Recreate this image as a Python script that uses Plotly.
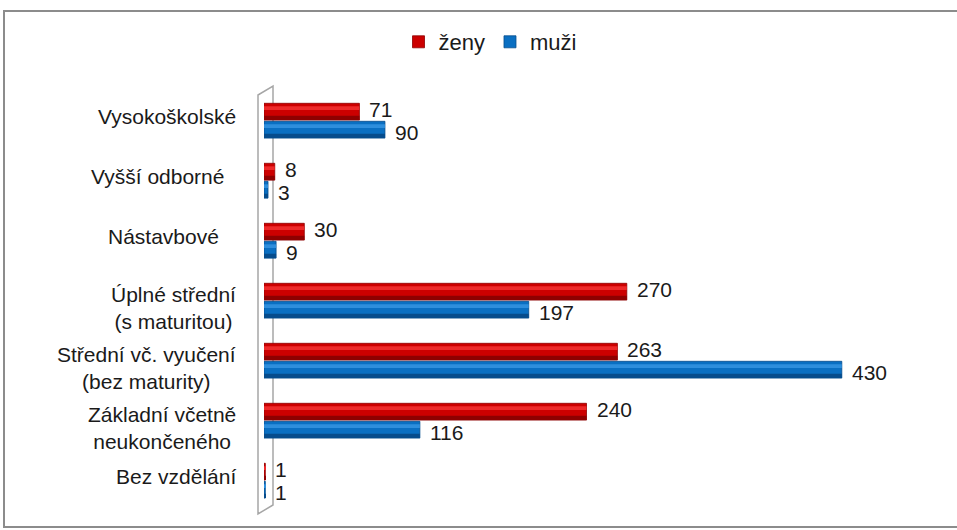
import plotly.graph_objects as go

# categories top to bottom
categories = [
    "Vysokoškolské",
    "Vyšší odborné\u00a0\u00a0",
    "Nástavbové\u00a0\u00a0\u00a0",
    "Úplné střední<br>(s maturitou)",
    "Střední vč. vyučení<br>(bez maturity)",
    "Základní včetně<br>neukončeného",
    "Bez vzdělání",
]
zeny = [71, 8, 30, 270, 263, 240, 1]
muzi = [90, 3, 9, 197, 430, 116, 1]

W, H = 957, 530
L, R, T, B = 264, 48, 91, 19
PW, PH = W - L - R, H - T - B


def px(x):
    return (x - L) / PW


def py(y):
    return (H - B - y) / PH


FONT = "Liberation Sans, Arial, sans-serif"

fig = go.Figure()
annotations = []


def cylinder(values, name, base, light, dark, offset, width, label_shift):
    # main bar
    fig.add_trace(go.Bar(
        x=values, y=categories, orientation="h", name=name,
        marker=dict(color=base, line=dict(color=dark, width=0.8)),
        offset=offset, width=width, hoverinfo="x+y",
    ))
    # highlight along the upper part
    fig.add_trace(go.Bar(
        x=values, y=categories, orientation="h", showlegend=False,
        marker=dict(color=light, line=dict(width=0)),
        offset=offset + width * 0.18, width=width * 0.22,
        hoverinfo="skip",
    ))
    # shadow along the lower part
    fig.add_trace(go.Bar(
        x=values, y=categories, orientation="h", showlegend=False,
        marker=dict(color=dark, line=dict(width=0)),
        offset=offset + width * 0.74, width=width * 0.26,
        hoverinfo="skip",
    ))
    # value labels just past the bar ends
    for v, c in zip(values, categories):
        annotations.append(dict(
            x=v, y=c, xref="x", yref="y", xanchor="left", xshift=8,
            yshift=label_shift, showarrow=False, text=str(v),
            font=dict(size=21, color="#1a1a1a", family=FONT),
        ))


cylinder(zeny, "ženy", "#CC0000", "#EE2A2A", "#8E0000", -0.295, 0.28, 12)
cylinder(muzi, "muži", "#0A6FC2", "#2E8EDC", "#064C8C", 0.005, 0.28, -11)

shapes = [
    # outer chart border
    dict(type="rect", xref="paper", yref="paper",
         x0=px(4), x1=px(962), y0=py(527), y1=py(11),
         line=dict(color="#8c8c8c", width=2), layer="below"),
    # thin 3D back wall
    dict(type="path", xref="paper", yref="paper",
         path=(f"M {px(258)} {py(95)} L {px(273)} {py(86)} L {px(273)} {py(505)} "
               f"L {px(258)} {py(514)} Z"),
         line=dict(color="#a6a6a6", width=1.5), layer="below"),
]

for c in categories:
    two_lines = "<br>" in c
    annotations.append(dict(
        x=0, xref="paper", xshift=-26, xanchor="right",
        y=c, yref="y", yshift=-7 if two_lines else 5,
        showarrow=False, align="center",
        text=c, font=dict(size=21, color="#1a1a1a", family=FONT),
    ))

fig.update_layout(
    width=W, height=H,
    margin=dict(l=L, r=R, t=T, b=B),
    paper_bgcolor="white", plot_bgcolor="rgba(0,0,0,0)",
    barmode="overlay",
    font=dict(family=FONT, color="#1a1a1a"),
    xaxis=dict(range=[0, 480], visible=False, fixedrange=True),
    yaxis=dict(range=[6.5, -0.5], showticklabels=False, showgrid=False,
               zeroline=False, showline=False, ticks="", fixedrange=True),
    legend=dict(orientation="h", xref="container", yref="container",
                x=490 / W, xanchor="center", y=1 - 42 / H,
                yanchor="middle",
                font=dict(size=22, family=FONT), itemwidth=30,
                traceorder="normal"),
    shapes=shapes,
    annotations=annotations,
    showlegend=True,
)

# drop the default 8px body margin so the figure sits at the page corner
fig.write_html("out.html", config={"displayModeBar": False},
               post_script="document.body.style.margin='0';document.body.style.overflow='hidden';")
